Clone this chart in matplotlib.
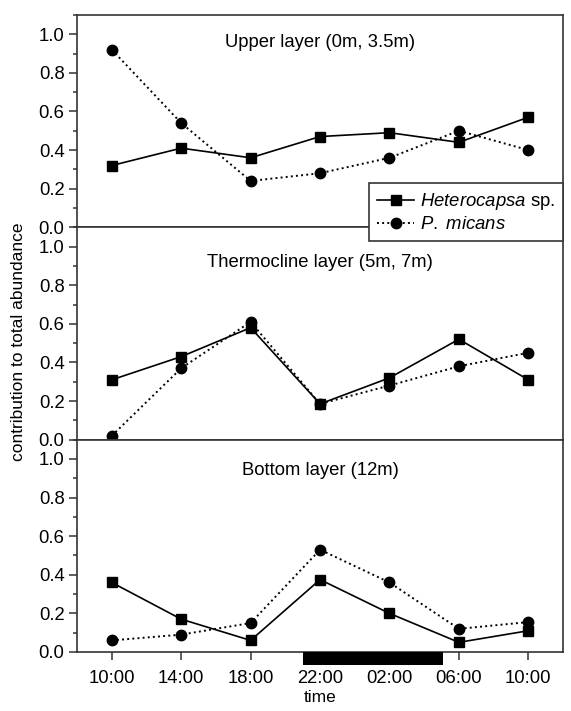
import matplotlib
matplotlib.use("Agg")
from matplotlib import pyplot as plt
from matplotlib.patches import Rectangle
from matplotlib.ticker import MultipleLocator

plt.rcParams["font.family"] = ["Liberation Sans", "DejaVu Sans"]
plt.rcParams["mathtext.fontset"] = "custom"
plt.rcParams["mathtext.it"] = "Liberation Sans:italic"
plt.rcParams["mathtext.rm"] = "Liberation Sans"

times = ["10:00", "14:00", "18:00", "22:00", "02:00", "06:00", "10:00"]
layers = ["Upper layer (0m, 3.5m)", "Thermocline layer (5m, 7m)", "Bottom layer (12m)"]

heterocapsa_upper = [0.32, 0.41, 0.36, 0.47, 0.49, 0.44, 0.57]
micans_upper = [0.92, 0.54, 0.24, 0.28, 0.36, 0.50, 0.40]
heterocapsa_thermo = [0.31, 0.43, 0.58, 0.185, 0.32, 0.52, 0.31]
micans_thermo = [0.02, 0.37, 0.61, 0.185, 0.28, 0.38, 0.45]
heterocapsa_bottom = [0.36, 0.17, 0.06, 0.375, 0.20, 0.05, 0.11]
micans_bottom = [0.06, 0.09, 0.15, 0.53, 0.36, 0.12, 0.155]

# dark period, in tick-index units along the time axis
night_start, night_end = 2.75, 4.77

heterocapsa = [heterocapsa_upper, heterocapsa_thermo, heterocapsa_bottom]
micans = [micans_upper, micans_thermo, micans_bottom]
title_y = [0.868, 0.836, 0.854]

fig, axes = plt.subplots(nrows=3, ncols=1, figsize=(5.71, 7.11), dpi=100, sharex=True)
fig.subplots_adjust(left=0.135, right=0.986, top=0.979, bottom=0.083, hspace=0)

x = list(range(len(times)))
fs = 13.3

for i, ax in enumerate(axes):
    h_line, = ax.plot(x, heterocapsa[i], "-", color="black", lw=1.2,
                      marker="s", ms=6.5, label=r"$\it{Heterocapsa}$ sp.", clip_on=False)
    m_line, = ax.plot(x, micans[i], ":", color="black", lw=1.4,
                      marker="o", ms=7.5, label=r"$\it{P.}$ $\it{micans}$", clip_on=False)
    ax.set_xlim(-0.5, 6.5)
    ax.set_ylim(0, 1.1)
    ax.yaxis.set_minor_locator(MultipleLocator(0.1))
    ax.set_yticks([0, 0.2, 0.4, 0.6, 0.8, 1.0])
    ax.set_yticklabels(["0.0", "0.2", "0.4", "0.6", "0.8", "1.0"])
    ax.tick_params(axis="both", which="major", direction="out", length=6,
                   width=1.1, labelsize=fs, color="#333333")
    ax.tick_params(axis="y", which="minor", direction="out", length=3.2,
                   width=1.1, color="#333333")
    ax.tick_params(axis="y", which="major", pad=3)
    ax.tick_params(axis="x", labelbottom=(i == 2), pad=7)
    for s in ax.spines.values():
        s.set_linewidth(1.2)
        s.set_color("#333333")
    ax.text(0.5, title_y[i], layers[i], transform=ax.transAxes,
            ha="center", va="center", fontsize=fs)

axes[2].set_xticks(x)
axes[2].set_xticklabels(times)
axes[2].set_xlabel("time", fontsize=12.5, labelpad=2)

# black bar marking night below the bottom axis
bar = Rectangle((night_start, -0.068), night_end - night_start, 0.068,
                facecolor="black", edgecolor="none", clip_on=False, zorder=5)
axes[2].add_patch(bar)

fig.text(19 / 571, 1 - 342 / 711, "contribution to total abundance",
         rotation=90, ha="center", va="center", fontsize=12.5)

leg = fig.legend(handles=[h_line, m_line], loc="upper right",
                 bbox_to_anchor=(563 / 571, 1 - 183 / 711), fontsize=fs,
                 fancybox=False, framealpha=1, edgecolor="#333333",
                 borderaxespad=0, handlelength=2.0, handletextpad=0.3,
                 labelspacing=0.2, borderpad=0.45)
leg.get_frame().set_linewidth(1.2)

fig.savefig("out.png", dpi=100, facecolor="w")
